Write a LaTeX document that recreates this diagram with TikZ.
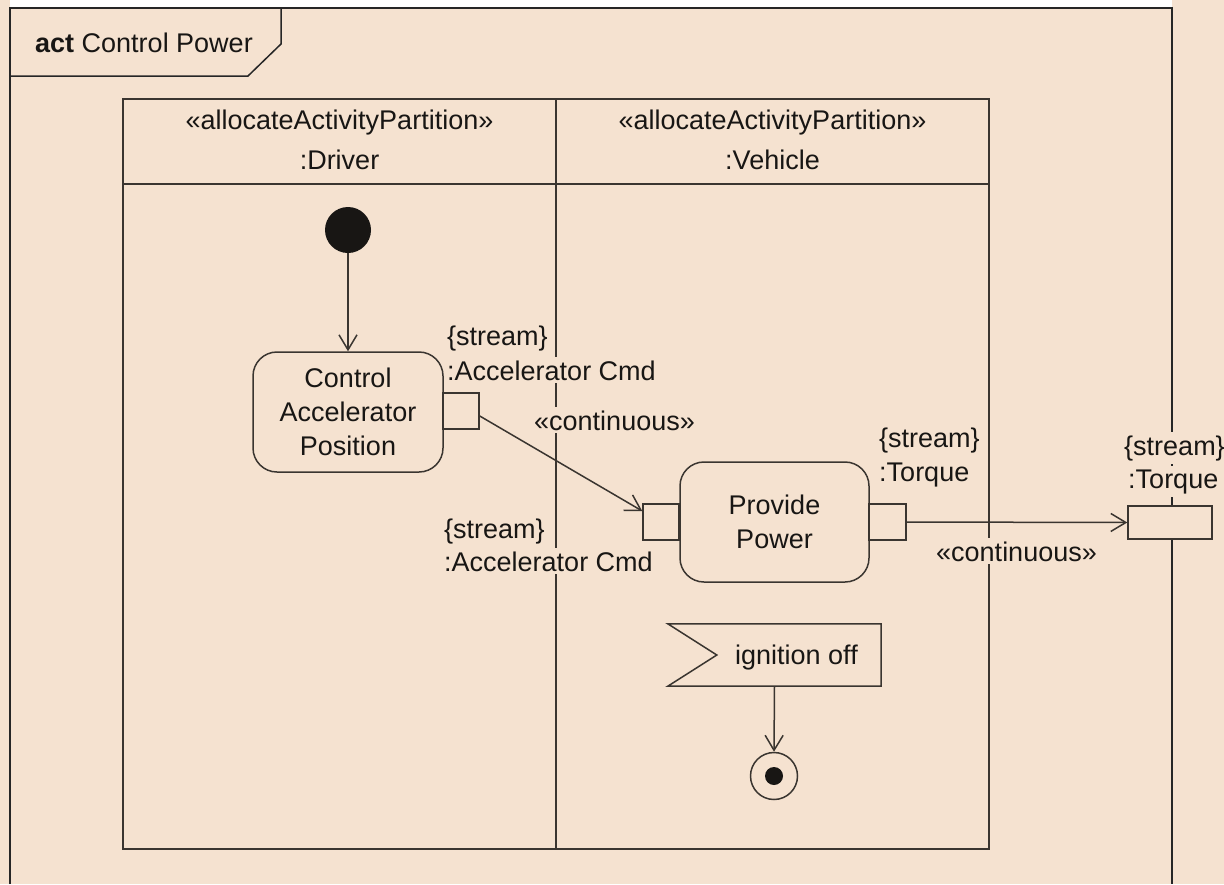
\documentclass[tikz,border=0pt]{standalone}
\usepackage{fontspec}
\setmainfont{Liberation Sans}
\usetikzlibrary{arrows.meta,calc}
\definecolor{paper}{RGB}{245,226,208}
\definecolor{ink}{RGB}{24,22,20}
\definecolor{edge}{RGB}{58,53,48}

\begin{document}
\begin{tikzpicture}[x=1pt,y=-1pt,
  every node/.style={font=\fontsize{27}{34}\selectfont, text=ink},
  ln/.style={draw=edge, line width=1.5pt},
  action/.style={ln, rounded corners=24pt, minimum width=190pt, minimum height=120pt,
                 align=center, inner sep=0pt},
  pinbox/.style={ln, fill=paper, minimum width=36pt, minimum height=36pt, inner sep=0pt},
  lbl/.style={fill=paper, inner xsep=1pt, inner ysep=3pt, anchor=base west},
  hdr/.style={anchor=base, inner sep=0pt},
  flow/.style={ln, -{Straight Barb[length=15pt,width=18pt,line width=1.5pt]}},
]
% canvas
\fill[paper] (0,0) rectangle (1224,884);
\fill[white] (10,0) rectangle (1172,7);
\useasboundingbox (0,0) rectangle (1224,884);

% activity frame and its name tab
\draw[line width=1.6pt, black!85] (10,884) -- (10,8) -- (1172,8) -- (1172,884);
\draw[line width=1.5pt, black!85] (10,76) -- (248,76) -- (281,44) -- (281,8);
\node[anchor=base west, inner sep=0pt] (title) at (35,52) {\textbf{act} Control Power};

% partitions
\draw[ln] (123,99) rectangle (989,849);
\draw[ln] (123,184) -- (989,184);
\draw[ln] (556,99) -- (556,849);
\node[hdr] (drvst)  at (339.5,129) {«allocateActivityPartition»};
\node[hdr] (drvnm)  at (339.5,169) {:Driver};
\node[hdr] (vehst)  at (772.5,129) {«allocateActivityPartition»};
\node[hdr] (vehnm)  at (772.5,169) {:Vehicle};

% pin and flow labels
\node[lbl] (l1a) at (446,345) {\{stream\}};
\node[lbl] (l1b) at (446,380) {:Accelerator Cmd};
\node[lbl] (c1)  at (533,430) {«continuous»};
\node[lbl] (l2a) at (443,538) {\{stream\}};
\node[lbl] (l2b) at (443,571) {:Accelerator Cmd};
\node[lbl] (l3a) at (878,447) {\{stream\}};
\node[lbl] (l3b) at (878,481) {:Torque};
\node[lbl] (c2)  at (935,561) {«continuous»};
\node[lbl] (l4a) at (1123,455) {\{stream\}};
\node[lbl] (l4b) at (1127,488) {:Torque};

% initial node
\node[circle, fill=ink, minimum size=46pt, inner sep=0pt] (init) at (348,230) {};

% actions
\node[action] (cap) at (348,412) {Control\\Accelerator\\Position};
\node[action, minimum width=189pt] (pp) at (774.5,522) {Provide\\Power};

% pins
\node[pinbox] (po)   at (461,411) {};
\node[pinbox] (pi)   at (661,522) {};
\node[pinbox, minimum width=37pt] (pout) at (887.5,522) {};
\node[pinbox, minimum width=84pt, minimum height=33pt] (bpin) at (1170,522.5) {};

% accept event
\node[minimum width=213pt, minimum height=62pt, inner sep=0pt] (ev) at (774.5,655) {};
\draw[ln] (ev.north west) -- (ev.north east) -- (ev.south east) -- (ev.south west)
          -- ($(ev.west)+(49,0)$) -- cycle;
\node[anchor=base west, inner sep=0pt] (evt) at (735,664) {ignition off};

% final node
\node[circle, ln, minimum size=47pt, inner sep=0pt] (fin) at (774,776) {};
\node[circle, fill=ink, minimum size=18pt, inner sep=0pt] (fdot) at (fin) {};

% flows
\draw[flow] (init) -- (cap);
\draw[flow] ([yshift=-5pt]po.east) -- ([yshift=11pt]pi.west);
\draw[flow] (pout.east) -- (bpin.west);
\draw[flow] (ev.south) -- (fin.north);
\end{tikzpicture}
\end{document}
